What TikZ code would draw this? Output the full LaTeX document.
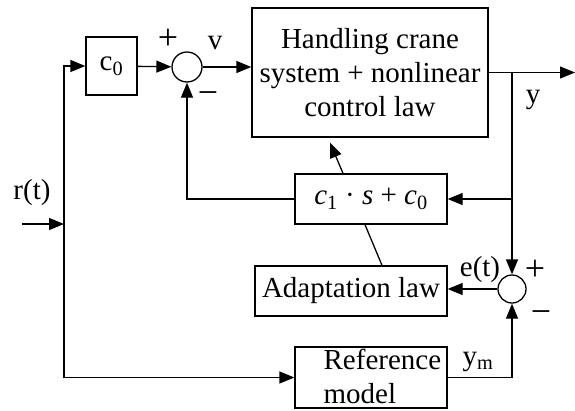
\documentclass[tikz,border=0pt]{standalone}
\usepackage{fontspec}
\setmainfont{Liberation Serif}
\usetikzlibrary{arrows.meta}

\begin{document}
\begin{tikzpicture}[x=1pt, y=-1pt, >={Triangle[length=15pt,width=12pt]},
  line width=1.3pt, font=\fontsize{29}{34}\selectfont,
  blk/.style={draw, rectangle, inner sep=0pt},
  sumnode/.style={draw, circle, minimum size=30pt, inner sep=0pt},
  lbl/.style={inner sep=0pt},
  sgn/.style={inner sep=0pt, font=\fontsize{36}{36}\selectfont}]
%% 1 unit = 1pt = 1px of the 575x410 frame, y grows downwards
\useasboundingbox (0,0) rectangle (575,410);

%% ---- Blocks ----
\node[blk, minimum width=51pt, minimum height=58pt] (czero) at (111.5,66) {c\textsubscript{0}};
\node[sumnode] (sumv) at (187,67) {};
\node[blk, minimum width=236pt, minimum height=129pt, align=center] (plant) at (370,72.5)
  {Handling crane\\system + nonlinear\\control law};
\node[blk, minimum width=152pt, minimum height=50pt] (ctrl) at (371,199)
  {\textit{c}\textsubscript{1} · \textit{s} + \textit{c}\textsubscript{0}};
\node[blk, minimum width=192pt, minimum height=50pt] (adapt) at (351,291) {Adaptation law};
\node[sumnode, minimum size=28pt] (sume) at (512,289) {};
\node[blk, minimum width=152pt, minimum height=61pt] (refm) at (371,377.5) {};
\node[lbl, anchor=north west, align=left] (refmtext) at (323,348) {Reference\\model};

%% ---- Signal labels ----
\node[sgn] (plusv)  at (168,39)  {+};
\node[lbl] (vlab)   at (215,43)  {v};
\node[sgn] (minusv) at (208,98)  {−};
\node[lbl] (ylab)   at (533,100) {y};
\node[lbl] (elab)   at (480,270) {e(t)};
\node[sgn] (pluse)  at (535,270) {+};
\node[sgn] (minuse) at (541,317) {−};
\node[lbl] (ymlab)  at (478,362) {y\textsubscript{m}};
\node[lbl] (rlab)   at (32,193)  {r(t)};

%% ---- Free ends ----
\coordinate (rin)   at (22,224);
\coordinate (rjoin) at (64,224);
\coordinate (ybr)   at (512,72.5);
\coordinate (yout)  at (575,72.5);

%% ---- Connectors ----
\draw[->] (rin) -- (rjoin);
\draw[->] (rjoin) |- (czero.west);
\draw[->] (rjoin) |- (refm.west);
\draw[->] (czero) -- (sumv);
\draw[->] (sumv) -- (sumv -| plant.west);
\draw[->] (plant.east) -- (yout);
\draw[->] (ybr) -- (sume.north);
\draw[->] (ybr |- ctrl) -- (ctrl.east);
\draw[->] (ctrl.west) -| (sumv.south);
\draw[->] ([xshift=-28pt]ctrl.north) -- ([xshift=-40pt,yshift=-5pt]plant.south);
\draw ([xshift=31pt]adapt.north) -- ([xshift=-6pt]ctrl.south);
\draw[->] (sume.west) -- (sume.west -| adapt.east);
\draw[->] (refm.east) -| (sume.south);
\end{tikzpicture}
\end{document}
